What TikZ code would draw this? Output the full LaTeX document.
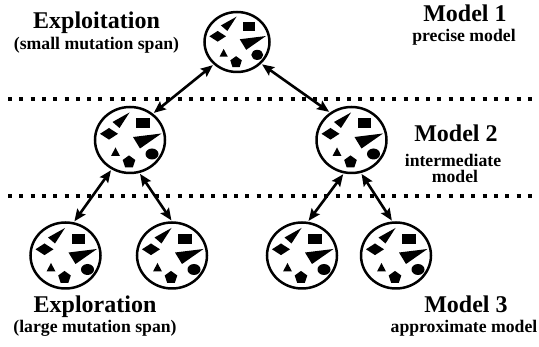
\documentclass[tikz,border=0pt]{standalone}
\usepackage{fontspec}
\setmainfont{Liberation Serif}
\usetikzlibrary{arrows.meta,shapes.geometric}
\tikzset{
  pop/.style={ellipse,draw,line width=2.5pt,inner sep=0pt,minimum width=70pt,minimum height=66pt},
  toppop/.style={pop,minimum width=65pt,minimum height=60pt},
  link/.style={line width=2.6pt,{Stealth[length=12pt,width=10pt,inset=2pt]}-{Stealth[length=12pt,width=10pt,inset=2pt]},shorten <=1pt,shorten >=1pt},
  sep/.style={line width=4pt,dash pattern=on 4pt off 7.3pt},
  big/.style={font=\bfseries\fontsize{24}{28}\selectfont,anchor=base,inner sep=0pt},
  small/.style={font=\bfseries\fontsize{17.7}{18}\selectfont,anchor=base,inner sep=0pt}
}
\newcommand\blobs[2]{%
\begin{scope}[shift={(#1)},scale=#2]
\fill (-17.5,-18) -- (-0.5,-27.5) -- (-10.5,-12) -- cycle;
\fill (6,-21.5) rectangle (19.5,-11.5);
\fill (-21,-12) -- (-12,-6.2) -- (-21,-0.4) -- (-30,-6.2) -- cycle;
\fill (3,-3) -- (31.5,-6.5) -- (10,8.5) -- cycle;
\fill (-14.5,7.5) -- (-10,16) -- (-19,16) -- cycle;
\fill (-1,22) +(-90:6.6) -- +(-18:6.6) -- +(54:6.6) -- +(126:6.6) -- +(198:6.6) -- cycle;
\fill (22,14) ellipse [x radius=6.5, y radius=5.5];
\end{scope}}
\begin{document}
\begin{tikzpicture}[x=1pt,y=-1pt]
\useasboundingbox (0,0) rectangle (539,347);
% separators
\coordinate (s1a) at (8,99); \coordinate (s1b) at (539,99);
\coordinate (s2a) at (8,196); \coordinate (s2b) at (539,196);
\draw[sep] (s1a) -- (s1b);
\draw[sep] (s2a) -- (s2b);
% populations
\node[toppop] (T) at (237,42) {};
\node[pop] (ML) at (130,140) {};
\node[pop] (MR) at (351.5,140) {};
\node[pop] (B1) at (65.5,255.5) {};
\node[pop] (B2) at (172,255.5) {};
\node[pop] (B3) at (302,255.5) {};
\node[pop] (B4) at (396,255.5) {};
\blobs{237,42}{0.92}
\blobs{130,140}{1}
\blobs{351.5,140}{1}
\blobs{65.5,255.5}{1}
\blobs{172,255.5}{1}
\blobs{302,255.5}{1}
\blobs{396,255.5}{1}
% links
\draw[link] (T.224) -- (ML.49);
\draw[link] (T.-42) -- (MR.128);
\draw[link] (ML.238) -- (B1.76);
\draw[link] (ML.-74) -- (B2.90);
\draw[link] (MR.-103) -- (B3.80);
\draw[link] (MR.-74) -- (B4.96);
% labels
\node[big] (l1) at (96.5,29) {Exploitation};
\node[small] (l2) at (96.5,50) {(small mutation span)};
\node[big] (l3) at (465,22) {Model 1};
\node[small] (l4) at (464,42) {precise model};
\node[big] (l5) at (456,142) {Model 2};
\node[small] (l6) at (453,167) {intermediate};
\node[small] (l7) at (455,183) {model};
\node[big] (l8) at (95,313) {Exploration};
\node[small] (l9) at (95,333) {(large mutation span)};
\node[big] (l10) at (466,313) {Model 3};
\node[small] (l11) at (464,333) {approximate model};
\end{tikzpicture}
\end{document}
